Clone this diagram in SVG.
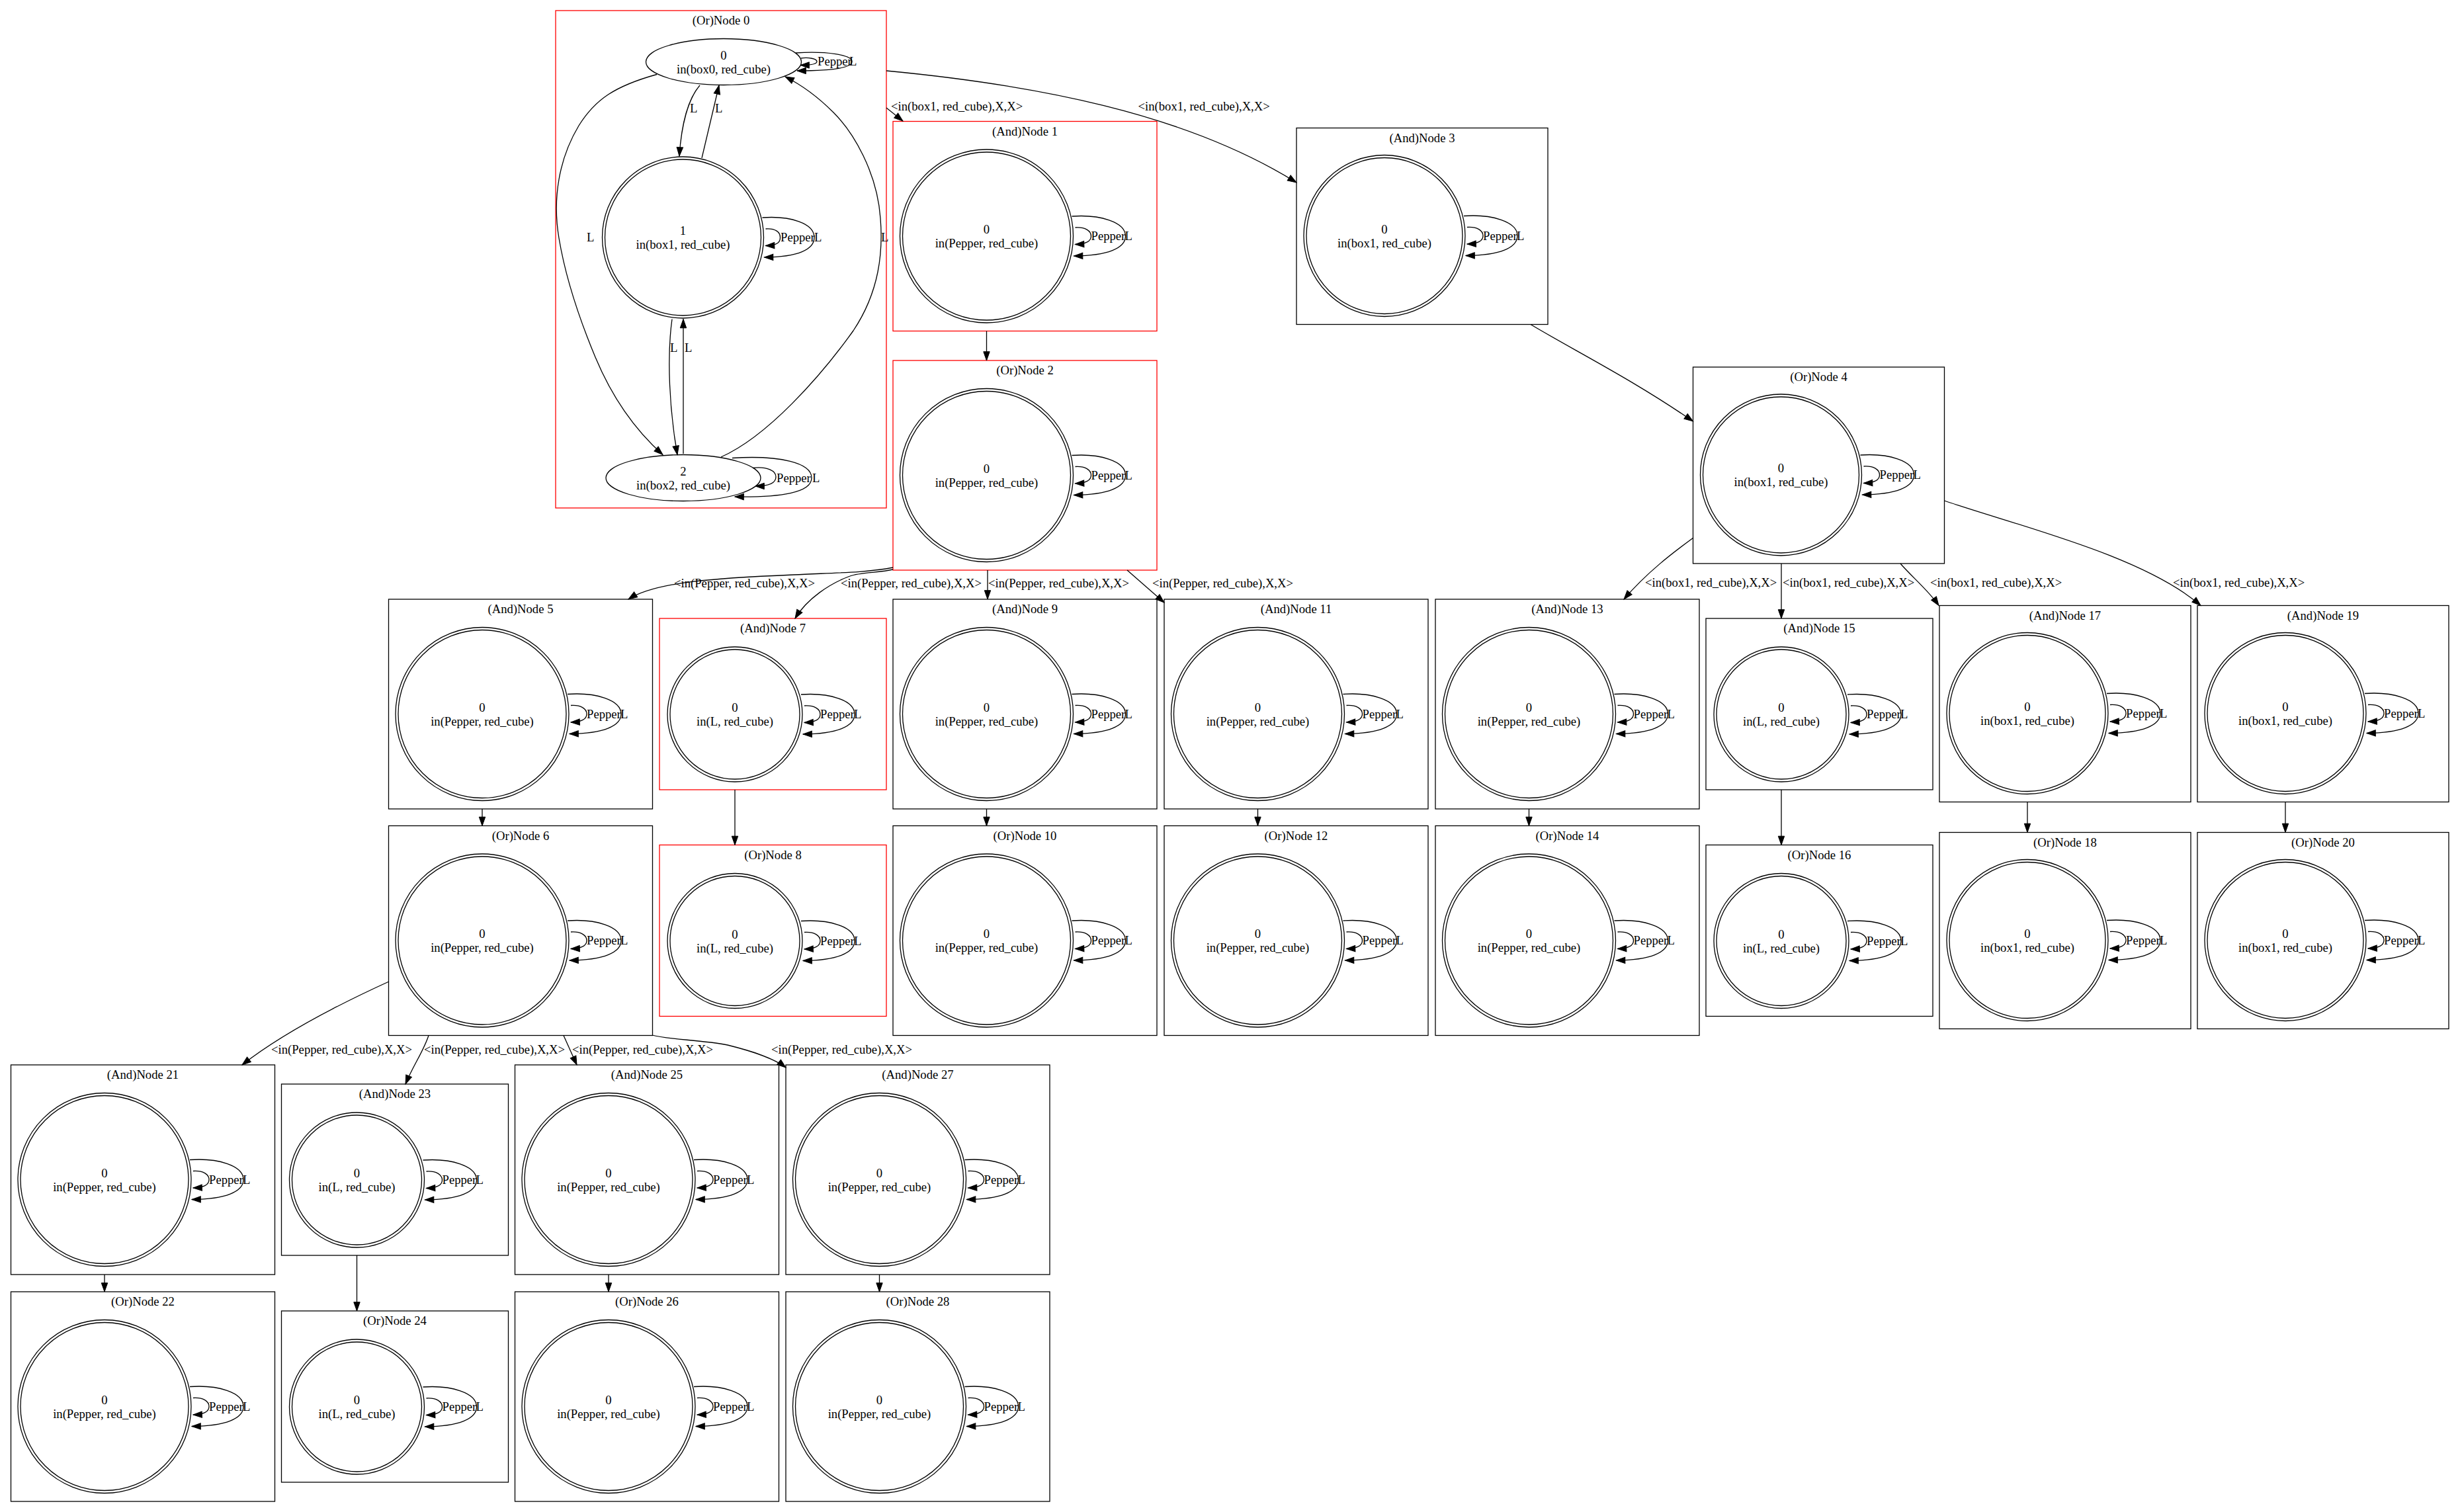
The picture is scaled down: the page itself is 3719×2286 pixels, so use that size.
<svg xmlns="http://www.w3.org/2000/svg" xmlns:xlink="http://www.w3.org/1999/xlink" width="3719" height="2286" viewBox="0 0 3719 2286">
<style>
text{font-family:"Liberation Serif","Times New Roman",serif;font-size:18.67px;fill:#000}
.t{text-anchor:middle}
.bx{fill:none;stroke:#000;stroke-width:1.3}
.rd{fill:none;stroke:#ff0000;stroke-width:1.3}
.ln{fill:none;stroke:#000;stroke-width:1.3}
.ar{fill:none;stroke:#000;stroke-width:1.3;marker-end:url(#a)}
</style>
<defs>
<marker id="a" markerUnits="userSpaceOnUse" viewBox="0 0 14 10" markerWidth="14" markerHeight="10" refX="13.3" refY="4.7" orient="auto" overflow="visible"><path d="M0,0 L13.3,4.7 L0,9.4 z" fill="#000" stroke="#000" stroke-width="1"/></marker>
<g id="cP">
<circle class="ln" cx="141.5" cy="173.5" r="131"/><circle class="ln" cx="141.5" cy="173.5" r="127"/>
<path class="ar" d="M270.5,143.5 C312.5,140.5 351.5,152 351.5,173.5 C351.5,191.5 325,203 273.5,203.5"/>
<path class="ar" d="M275.5,160.5 C290.5,159.5 299.5,165.5 299.5,173.5 C299.5,181.5 292.5,185.5 275.5,186"/>
</g>
<g id="cL">
<circle class="ln" cx="114" cy="145" r="102"/><circle class="ln" cx="114" cy="145" r="98"/>
<path class="ar" d="M214,115 C256,112 295,123.5 295,145 C295,163 268.5,174.5 217,175"/>
<path class="ar" d="M219,132 C234,131 243,137 243,145 C243,153 236,157 219,157.5"/>
</g>
<g id="cB">
<circle class="ln" cx="133" cy="163" r="122"/><circle class="ln" cx="133" cy="163" r="118"/>
<path class="ar" d="M253,133 C295,130 334,141.5 334,163 C334,181 307.5,192.5 256,193"/>
<path class="ar" d="M258,150 C273,149 282,155 282,163 C282,171 275,175 258,175.5"/>
</g>
</defs>
<rect width="3719" height="2286" fill="#fff"/>

<g id="node0">
<rect class="rd" x="840" y="16" width="500" height="752"/>
<text class="t" x="1090" y="37">(Or)Node 0</text>
<ellipse class="ln" cx="1094" cy="93.5" rx="117.5" ry="35"/>
<text class="t" x="1094" y="89.5">0</text><text class="t" x="1094" y="110.5">in(box0, red_cube)</text>
<circle class="ln" cx="1032.5" cy="359" r="122"/><circle class="ln" cx="1032.5" cy="359" r="118"/>
<text class="t" x="1032.5" y="355">1</text><text class="t" x="1032.5" y="376">in(box1, red_cube)</text>
<ellipse class="ln" cx="1033" cy="722.5" rx="117" ry="35"/>
<text class="t" x="1033" y="718.5">2</text><text class="t" x="1033" y="739.5">in(box2, red_cube)</text>
<path class="ar" d="M1203,80 C1250,77 1288,83 1288,93 C1288,103 1255,107 1205,107"/>
<path class="ar" d="M1211,88 C1222,86 1235,89 1235,93 C1235,97 1226,98.5 1210,98.5"/>
<text x="1236" y="99">Pepper</text><text x="1284" y="99">L</text>
<path class="ar" d="M1152.5,329 C1194.5,326 1231,337.5 1231,359 C1231,377 1207,388.5 1155.5,389"/>
<path class="ar" d="M1157.5,346 C1172.5,345 1179.5,351 1179.5,359 C1179.5,367 1174.5,371 1157.5,371.5"/>
<text x="1180" y="365">Pepper</text><text x="1231" y="365">L</text>
<path class="ar" d="M1107,692.5 C1180,688 1227,700 1227,722.5 C1227,745 1180,752 1111,751"/>
<path class="ar" d="M1138,707.5 C1160,705 1173,712 1173,721 C1173,730 1162,735 1142,735"/>
<text x="1174" y="729">Pepper</text><text x="1228" y="729">L</text>
<path class="ar" d="M1058,129 C1040,150 1030,190 1027,236"/>
<text x="1043" y="170">L</text>
<path class="ar" d="M1061,239 L1087,129"/>
<text x="1081" y="170">L</text>
<path class="ar" d="M1016,482.5 C1008,540 1012,620 1024,687.5"/>
<text x="1013" y="532">L</text>
<path class="ar" d="M1033,686 L1033,482.5"/>
<text x="1035" y="532">L</text>
<path class="ar" d="M993,112.5 C930,130 900,150 875,190 C845,240 835,300 845,360 C855,420 875,480 900,540 C925,600 960,650 1002,687.5"/>
<text x="887" y="365">L</text>
<path class="ar" d="M1090,691 C1160,660 1240,570 1290,500 C1330,440 1335,380 1331,330 C1326,260 1290,200 1260,170 C1240,150 1215,130 1187,116"/>
<text x="1332" y="365">L</text>
</g>

<g id="node1" transform="translate(1350,183.5)"><rect class="rd" width="399" height="317"/><text class="t" x="199.5" y="21">(And)Node 1</text><use xlink:href="#cP"/><text class="t" x="141.5" y="169.5">0</text><text class="t" x="141.5" y="190.5">in(Pepper, red_cube)</text><text x="299.5" y="179.5">Pepper</text><text x="350.5" y="179.5">L</text></g>
<g id="node2" transform="translate(1350,545)"><rect class="rd" width="399" height="317"/><text class="t" x="199.5" y="21">(Or)Node 2</text><use xlink:href="#cP"/><text class="t" x="141.5" y="169.5">0</text><text class="t" x="141.5" y="190.5">in(Pepper, red_cube)</text><text x="299.5" y="179.5">Pepper</text><text x="350.5" y="179.5">L</text></g>
<g id="node3" transform="translate(1960,193.5)"><rect class="bx" width="380" height="297"/><text class="t" x="190" y="21">(And)Node 3</text><use xlink:href="#cB"/><text class="t" x="133" y="159">0</text><text class="t" x="133" y="180">in(box1, red_cube)</text><text x="282" y="169">Pepper</text><text x="333" y="169">L</text></g>
<g id="node4" transform="translate(2559.5,555)"><rect class="bx" width="380" height="297"/><text class="t" x="190" y="21">(Or)Node 4</text><use xlink:href="#cB"/><text class="t" x="133" y="159">0</text><text class="t" x="133" y="180">in(box1, red_cube)</text><text x="282" y="169">Pepper</text><text x="333" y="169">L</text></g>
<g id="node5" transform="translate(587.5,906)"><rect class="bx" width="399" height="317"/><text class="t" x="199.5" y="21">(And)Node 5</text><use xlink:href="#cP"/><text class="t" x="141.5" y="169.5">0</text><text class="t" x="141.5" y="190.5">in(Pepper, red_cube)</text><text x="299.5" y="179.5">Pepper</text><text x="350.5" y="179.5">L</text></g>
<g id="node6" transform="translate(587.5,1248.5)"><rect class="bx" width="399" height="317"/><text class="t" x="199.5" y="21">(Or)Node 6</text><use xlink:href="#cP"/><text class="t" x="141.5" y="169.5">0</text><text class="t" x="141.5" y="190.5">in(Pepper, red_cube)</text><text x="299.5" y="179.5">Pepper</text><text x="350.5" y="179.5">L</text></g>
<g id="node7" transform="translate(997,935)"><rect class="rd" width="343" height="259"/><text class="t" x="171.5" y="21">(And)Node 7</text><use xlink:href="#cL"/><text class="t" x="114" y="141">0</text><text class="t" x="114" y="162">in(L, red_cube)</text><text x="243" y="151">Pepper</text><text x="294" y="151">L</text></g>
<g id="node8" transform="translate(997,1277.5)"><rect class="rd" width="343" height="259"/><text class="t" x="171.5" y="21">(Or)Node 8</text><use xlink:href="#cL"/><text class="t" x="114" y="141">0</text><text class="t" x="114" y="162">in(L, red_cube)</text><text x="243" y="151">Pepper</text><text x="294" y="151">L</text></g>
<g id="node9" transform="translate(1350,906)"><rect class="bx" width="399" height="317"/><text class="t" x="199.5" y="21">(And)Node 9</text><use xlink:href="#cP"/><text class="t" x="141.5" y="169.5">0</text><text class="t" x="141.5" y="190.5">in(Pepper, red_cube)</text><text x="299.5" y="179.5">Pepper</text><text x="350.5" y="179.5">L</text></g>
<g id="node10" transform="translate(1350,1248.5)"><rect class="bx" width="399" height="317"/><text class="t" x="199.5" y="21">(Or)Node 10</text><use xlink:href="#cP"/><text class="t" x="141.5" y="169.5">0</text><text class="t" x="141.5" y="190.5">in(Pepper, red_cube)</text><text x="299.5" y="179.5">Pepper</text><text x="350.5" y="179.5">L</text></g>
<g id="node11" transform="translate(1760,906)"><rect class="bx" width="399" height="317"/><text class="t" x="199.5" y="21">(And)Node 11</text><use xlink:href="#cP"/><text class="t" x="141.5" y="169.5">0</text><text class="t" x="141.5" y="190.5">in(Pepper, red_cube)</text><text x="299.5" y="179.5">Pepper</text><text x="350.5" y="179.5">L</text></g>
<g id="node12" transform="translate(1760,1248.5)"><rect class="bx" width="399" height="317"/><text class="t" x="199.5" y="21">(Or)Node 12</text><use xlink:href="#cP"/><text class="t" x="141.5" y="169.5">0</text><text class="t" x="141.5" y="190.5">in(Pepper, red_cube)</text><text x="299.5" y="179.5">Pepper</text><text x="350.5" y="179.5">L</text></g>
<g id="node13" transform="translate(2170,906)"><rect class="bx" width="399" height="317"/><text class="t" x="199.5" y="21">(And)Node 13</text><use xlink:href="#cP"/><text class="t" x="141.5" y="169.5">0</text><text class="t" x="141.5" y="190.5">in(Pepper, red_cube)</text><text x="299.5" y="179.5">Pepper</text><text x="350.5" y="179.5">L</text></g>
<g id="node14" transform="translate(2170,1248.5)"><rect class="bx" width="399" height="317"/><text class="t" x="199.5" y="21">(Or)Node 14</text><use xlink:href="#cP"/><text class="t" x="141.5" y="169.5">0</text><text class="t" x="141.5" y="190.5">in(Pepper, red_cube)</text><text x="299.5" y="179.5">Pepper</text><text x="350.5" y="179.5">L</text></g>
<g id="node15" transform="translate(2579,935)"><rect class="bx" width="343" height="259"/><text class="t" x="171.5" y="21">(And)Node 15</text><use xlink:href="#cL"/><text class="t" x="114" y="141">0</text><text class="t" x="114" y="162">in(L, red_cube)</text><text x="243" y="151">Pepper</text><text x="294" y="151">L</text></g>
<g id="node16" transform="translate(2579,1277.5)"><rect class="bx" width="343" height="259"/><text class="t" x="171.5" y="21">(Or)Node 16</text><use xlink:href="#cL"/><text class="t" x="114" y="141">0</text><text class="t" x="114" y="162">in(L, red_cube)</text><text x="243" y="151">Pepper</text><text x="294" y="151">L</text></g>
<g id="node17" transform="translate(2932,915.5)"><rect class="bx" width="380" height="297"/><text class="t" x="190" y="21">(And)Node 17</text><use xlink:href="#cB"/><text class="t" x="133" y="159">0</text><text class="t" x="133" y="180">in(box1, red_cube)</text><text x="282" y="169">Pepper</text><text x="333" y="169">L</text></g>
<g id="node18" transform="translate(2932,1258.5)"><rect class="bx" width="380" height="297"/><text class="t" x="190" y="21">(Or)Node 18</text><use xlink:href="#cB"/><text class="t" x="133" y="159">0</text><text class="t" x="133" y="180">in(box1, red_cube)</text><text x="282" y="169">Pepper</text><text x="333" y="169">L</text></g>
<g id="node19" transform="translate(3322,915.5)"><rect class="bx" width="380" height="297"/><text class="t" x="190" y="21">(And)Node 19</text><use xlink:href="#cB"/><text class="t" x="133" y="159">0</text><text class="t" x="133" y="180">in(box1, red_cube)</text><text x="282" y="169">Pepper</text><text x="333" y="169">L</text></g>
<g id="node20" transform="translate(3322,1258.5)"><rect class="bx" width="380" height="297"/><text class="t" x="190" y="21">(Or)Node 20</text><use xlink:href="#cB"/><text class="t" x="133" y="159">0</text><text class="t" x="133" y="180">in(box1, red_cube)</text><text x="282" y="169">Pepper</text><text x="333" y="169">L</text></g>
<g id="node21" transform="translate(16.5,1610)"><rect class="bx" width="399" height="317"/><text class="t" x="199.5" y="21">(And)Node 21</text><use xlink:href="#cP"/><text class="t" x="141.5" y="169.5">0</text><text class="t" x="141.5" y="190.5">in(Pepper, red_cube)</text><text x="299.5" y="179.5">Pepper</text><text x="350.5" y="179.5">L</text></g>
<g id="node22" transform="translate(16.5,1953)"><rect class="bx" width="399" height="317"/><text class="t" x="199.5" y="21">(Or)Node 22</text><use xlink:href="#cP"/><text class="t" x="141.5" y="169.5">0</text><text class="t" x="141.5" y="190.5">in(Pepper, red_cube)</text><text x="299.5" y="179.5">Pepper</text><text x="350.5" y="179.5">L</text></g>
<g id="node23" transform="translate(425.5,1639)"><rect class="bx" width="343" height="259"/><text class="t" x="171.5" y="21">(And)Node 23</text><use xlink:href="#cL"/><text class="t" x="114" y="141">0</text><text class="t" x="114" y="162">in(L, red_cube)</text><text x="243" y="151">Pepper</text><text x="294" y="151">L</text></g>
<g id="node24" transform="translate(425.5,1982)"><rect class="bx" width="343" height="259"/><text class="t" x="171.5" y="21">(Or)Node 24</text><use xlink:href="#cL"/><text class="t" x="114" y="141">0</text><text class="t" x="114" y="162">in(L, red_cube)</text><text x="243" y="151">Pepper</text><text x="294" y="151">L</text></g>
<g id="node25" transform="translate(778.5,1610)"><rect class="bx" width="399" height="317"/><text class="t" x="199.5" y="21">(And)Node 25</text><use xlink:href="#cP"/><text class="t" x="141.5" y="169.5">0</text><text class="t" x="141.5" y="190.5">in(Pepper, red_cube)</text><text x="299.5" y="179.5">Pepper</text><text x="350.5" y="179.5">L</text></g>
<g id="node26" transform="translate(778.5,1953)"><rect class="bx" width="399" height="317"/><text class="t" x="199.5" y="21">(Or)Node 26</text><use xlink:href="#cP"/><text class="t" x="141.5" y="169.5">0</text><text class="t" x="141.5" y="190.5">in(Pepper, red_cube)</text><text x="299.5" y="179.5">Pepper</text><text x="350.5" y="179.5">L</text></g>
<g id="node27" transform="translate(1188,1610)"><rect class="bx" width="399" height="317"/><text class="t" x="199.5" y="21">(And)Node 27</text><use xlink:href="#cP"/><text class="t" x="141.5" y="169.5">0</text><text class="t" x="141.5" y="190.5">in(Pepper, red_cube)</text><text x="299.5" y="179.5">Pepper</text><text x="350.5" y="179.5">L</text></g>
<g id="node28" transform="translate(1188,1953)"><rect class="bx" width="399" height="317"/><text class="t" x="199.5" y="21">(Or)Node 28</text><use xlink:href="#cP"/><text class="t" x="141.5" y="169.5">0</text><text class="t" x="141.5" y="190.5">in(Pepper, red_cube)</text><text x="299.5" y="179.5">Pepper</text><text x="350.5" y="179.5">L</text></g>

<g id="connectors">
<path class="ar" d="M1340,163 L1365,183"/>
<text x="1347" y="167">&lt;in(box1, red_cube),X,X&gt;</text>
<path class="ar" d="M1340,107 C1560,128 1790,170 1960,276"/>
<text x="1720.5" y="167">&lt;in(box1, red_cube),X,X&gt;</text>
<path class="ar" d="M1491.5,500.5 L1491.5,545"/>
<path class="ar" d="M2314,490.5 C2380,530 2470,575 2559.5,637"/>
<path class="ar" d="M1350,858 C1310,866 1260,866 1200,869 C1080,874 990,880 950,906"/>
<text x="1019" y="888">&lt;in(Pepper, red_cube),X,X&gt;</text>
<path class="ar" d="M1350,861 C1330,866 1300,865 1285,871 C1255,882 1220,905 1202,935"/>
<text x="1271" y="888">&lt;in(Pepper, red_cube),X,X&gt;</text>
<path class="ar" d="M1493,862 L1493,906"/>
<text x="1494" y="888">&lt;in(Pepper, red_cube),X,X&gt;</text>
<path class="ar" d="M1704,862 L1760,911"/>
<text x="1742" y="888">&lt;in(Pepper, red_cube),X,X&gt;</text>
<path class="ar" d="M2560,813 C2530,835 2490,865 2455,906"/>
<text x="2487" y="887">&lt;in(box1, red_cube),X,X&gt;</text>
<path class="ar" d="M2693,852 L2693,935"/>
<text x="2695" y="887">&lt;in(box1, red_cube),X,X&gt;</text>
<path class="ar" d="M2873,852 C2890,872 2915,892 2931,915.5"/>
<text x="2918" y="887">&lt;in(box1, red_cube),X,X&gt;</text>
<path class="ar" d="M2939.5,757 C3050,795 3240,840 3327,915.5"/>
<text x="3285" y="887">&lt;in(box1, red_cube),X,X&gt;</text>
<path class="ar" d="M729,1223 L729,1248.5"/>
<path class="ar" d="M1111,1194 L1111,1277.5"/>
<path class="ar" d="M1491.5,1223 L1491.5,1248.5"/>
<path class="ar" d="M1901.5,1223 L1901.5,1248.5"/>
<path class="ar" d="M2311.5,1223 L2311.5,1248.5"/>
<path class="ar" d="M2693,1194 L2693,1277.5"/>
<path class="ar" d="M3065,1212.5 L3065,1258.5"/>
<path class="ar" d="M3455,1212.5 L3455,1258.5"/>
<path class="ar" d="M588,1484 C520,1515 430,1560 366,1610"/>
<text x="410" y="1593">&lt;in(Pepper, red_cube),X,X&gt;</text>
<path class="ar" d="M648,1565.5 C640,1590 625,1610 613,1639"/>
<text x="641" y="1593">&lt;in(Pepper, red_cube),X,X&gt;</text>
<path class="ar" d="M852,1565.5 L872,1610"/>
<text x="865" y="1593">&lt;in(Pepper, red_cube),X,X&gt;</text>
<path class="ar" d="M986,1565 C1010,1572 1060,1572 1100,1580 C1140,1590 1170,1600 1188,1614"/>
<text x="1166" y="1593">&lt;in(Pepper, red_cube),X,X&gt;</text>
<path class="ar" d="M158,1927 L158,1953"/>
<path class="ar" d="M539.5,1898 L539.5,1982"/>
<path class="ar" d="M920,1927 L920,1953"/>
<path class="ar" d="M1329.5,1927 L1329.5,1953"/>
</g>
</svg>
